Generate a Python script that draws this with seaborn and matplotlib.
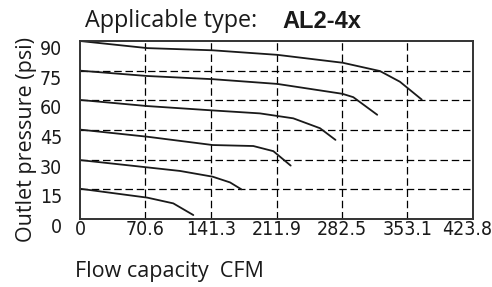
import numpy as np
import pandas as pd
import matplotlib
matplotlib.use("Agg")
import matplotlib.pyplot as plt
import matplotlib.transforms as mtransforms
import seaborn as sns

# data (flow in CFM, outlet pressure in psi)
flow_90 = [0, 72.6, 143, 212.8, 283.3, 323.5, 345, 368.5]
psi_90 = [90, 86.4, 85.3, 83.0, 79.0, 74.8, 69.4, 60.4]

flow_75 = [0, 72.6, 143, 212.8, 283.0, 294.7, 320.5]
psi_75 = [75, 72.3, 70.7, 68.3, 63.3, 61.6, 52.7]

flow_60 = [0, 72.6, 143, 194, 230, 258.8, 275.5]
psi_60 = [60.2, 57.1, 54.9, 53.4, 50.9, 45.9, 40.0]

flow_45 = [0, 72.6, 143, 186.9, 208.5, 227.2]
psi_45 = [45.2, 41.6, 37.4, 36.9, 34.3, 27.0]

flow_30 = [0, 72.6, 107.8, 143, 161.8, 174.0]
psi_30 = [29.8, 26.1, 24.3, 21.4, 18.5, 15.0]

flow_15 = [0, 72.6, 100.6, 122.2]
psi_15 = [15.3, 10.8, 7.9, 2.0]

set_pressures = ["90", "75", "60", "45", "30", "15"]
x_ticks = [0, 70.6, 141.3, 211.9, 282.5, 353.1, 423.8]
x_tick_labels = ["0", "70.6", "141.3", "211.9", "282.5", "353.1", "423.8"]
y_ticks = [0, 15, 30, 45, 60, 75, 90]

# long form table for seaborn
flows = [flow_90, flow_75, flow_60, flow_45, flow_30, flow_15]
psis = [psi_90, psi_75, psi_60, psi_45, psi_30, psi_15]
frames = []
for name, fx, fy in zip(set_pressures, flows, psis):
    frames.append(pd.DataFrame({"flow": fx, "psi": fy, "set": name}))
df = pd.concat(frames, ignore_index=True)

sns.set_theme(style="white")
plt.rcParams['font.family'] = ['Open Sans', 'DejaVu Sans']

fig = plt.figure(figsize=(4.92, 2.87), dpi=100)
ax = fig.add_axes([80 / 492, 1 - 219 / 287, 393 / 492, 178 / 287])

sns.lineplot(data=df, x="flow", y="psi", hue="set", palette=["#1a1a1a"] * 6,
             legend=False, sort=False, linewidth=1.3, ax=ax)

ax.set_xlim(0, 423.8)
ax.set_ylim(0, 90)
ax.set_xticks(x_ticks)
ax.set_xticklabels(x_tick_labels)
ax.set_yticks(y_ticks)

# dashed grid
for xv in x_ticks[1:-1]:
    ax.axvline(xv, color="black", lw=0.9, ls=(0, (6, 3)), zorder=0)
for yv in y_ticks[1:-1]:
    ax.axhline(yv, color="black", lw=0.9, ls=(0, (6, 3)), zorder=0)

for s in ax.spines.values():
    s.set_color("#333333")
    s.set_linewidth(1.4)

ax.tick_params(axis="x", length=0, pad=1, labelsize=14)
ax.tick_params(axis="y", length=0, pad=13, labelsize=14)
for lbl in ax.get_xticklabels() + ax.get_yticklabels():
    lbl.set_family(['DejaVu Sans'])
    lbl.set_stretch("condensed")
    lbl.set_color("#1a1a1a")

# y tick labels sit a little below their grid lines
offset = mtransforms.ScaledTranslation(0, -0.065, fig.dpi_scale_trans)
for lbl in ax.get_yticklabels():
    lbl.set_transform(lbl.get_transform() + offset)
# keep the last x label inside the figure
last = ax.get_xticklabels()[-1]
last.set_transform(last.get_transform() + mtransforms.ScaledTranslation(-0.06, 0, fig.dpi_scale_trans))

ax.set_xlabel("")
ax.set_ylabel("")
fig.text(27 / 492, 1 - 140 / 287, "Outlet pressure (psi)", rotation=90,
         ha="center", va="center", fontsize=15.5, color="#1a1a1a")
fig.text(75 / 492, 1 - 272 / 287, "Flow capacity  CFM", ha="left",
         va="center", fontsize=15.5, color="#1a1a1a")

fig.text(85 / 492, 1 - 21 / 287, "Applicable type:", ha="left", va="center",
         fontsize=16.8, color="#1a1a1a")
fig.text(282 / 492, 1 - 21 / 287, "AL2-4x", ha="left", va="center",
         fontsize=17, fontweight="bold", family=['Liberation Sans', 'DejaVu Sans'],
         color="#1a1a1a")

fig.savefig("out.png", dpi=100)
